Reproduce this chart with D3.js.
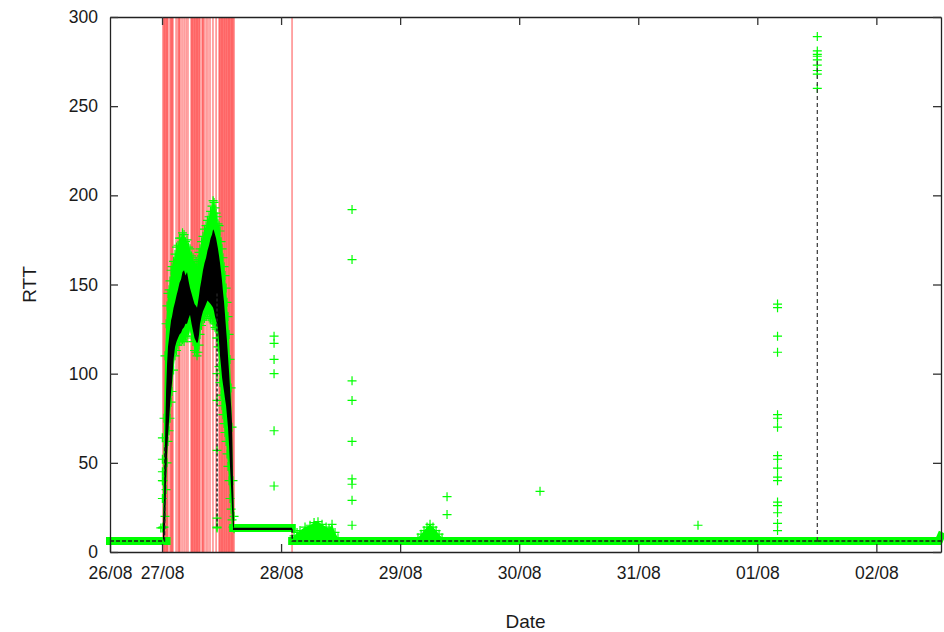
<!DOCTYPE html>
<html>
<head>
<meta charset="utf-8">
<script src="https://cdn.jsdelivr.net/npm/d3@7"></script>
<style>
  html, body { margin: 0; padding: 0; background: #fff; }
  svg { display: block; font-family: "Liberation Sans", Arial, Helvetica, sans-serif; }
</style>
</head>
<body>
<svg id="chart" width="944" height="632"></svg>
<script>
// Time is counted in days from 26/08 00:00.
const xDomain = [0.563, 7.543];
const yDomain = [0, 300];
const xTickValues = [0.563, 1, 2, 3, 4, 5, 6, 7];
const xTickLabels = ["26/08", "27/08", "28/08", "29/08", "30/08", "31/08", "01/08", "02/08"];
const yTickValues = [0, 50, 100, 150, 200, 250, 300];

// Link outages (red markers)
const outageDays = [
  1.008, 1.017, 1.025, 1.034, 1.042, 1.050, 1.067, 1.076, 1.084, 1.092,
  1.118, 1.134, 1.143, 1.151, 1.168, 1.185, 1.202, 1.218, 1.244, 1.252,
  1.260, 1.269, 1.277, 1.286, 1.294, 1.302, 1.311, 1.319, 1.336, 1.344,
  1.353, 1.370, 1.386, 1.403, 1.428, 1.454, 1.479, 1.487, 1.496, 1.504,
  1.512, 1.521, 1.529, 1.538, 1.546, 1.555, 1.563, 1.571, 1.580, 1.588,
  1.596, 1.605, 2.092
];

// Steady RTT samples (green band); NaN splits the segments
const bandDays = [0.563, 1.038, NaN, 1.598, 2.090, NaN, 2.093, 7.525, 7.543];
const bandRtt  = [6.2,   6.2,   NaN, 13.5,  13.5,  NaN, 6.2,   6.2,   9];

// Congestion episode on 27/08: spread of the RTT samples
const burstDays = [
  1.008, 1.017, 1.025, 1.034, 1.042, 1.050, 1.059, 1.067, 1.076, 1.084,
  1.097, 1.109, 1.122, 1.134, 1.147, 1.160, 1.172, 1.185, 1.197, 1.210,
  1.223, 1.235, 1.248, 1.260, 1.273, 1.286, 1.294, 1.302, 1.311, 1.319,
  1.332, 1.344, 1.357, 1.370, 1.382, 1.395, 1.408, 1.420, 1.429, 1.437,
  1.445, 1.454, 1.462, 1.470, 1.479, 1.487, 1.496, 1.504, 1.512, 1.521,
  1.529, 1.538, 1.546, 1.554, 1.563, 1.571, 1.580, 1.588, 1.596, 1.605
];
const burstHigh = [
  40, 75, 110, 128, 138, 145, 147, 152, 158, 160,
  163, 167, 171, 172, 176, 176, 179, 178, 174, 175,
  171, 170, 166, 165, 161, 163, 160, 164, 168, 170,
  174, 177, 181, 183, 186, 188, 191, 194, 197, 196,
  193, 190, 188, 184, 183, 180, 174, 170, 165, 160,
  155, 148, 140, 132, 122, 108, 92, 70, 40, 20
];
const burstLow = [
  14, 14, 20, 35, 50, 62, 68, 75, 84, 90,
  102, 110, 113, 116, 118, 118, 119, 118, 121, 120,
  124, 125, 121, 118, 113, 112, 110, 112, 116, 122,
  127, 130, 131, 132, 134, 132, 131, 130, 129, 128,
  126, 125, 120, 115, 104, 95, 88, 82, 77, 72,
  67, 62, 55, 48, 40, 30, 24, 18, 14, 13
];
// Smoothed RTT band during the episode (black)
const smoothHigh = [
  14, 30, 60, 90, 105, 115, 120, 125, 130, 132,
  137, 140, 144, 147, 151, 153, 157, 158, 155, 157,
  152, 148, 145, 142, 139, 138, 137, 140, 144, 148,
  153, 158, 162, 165, 169, 172, 176, 178, 181, 180,
  178, 176, 173, 170, 166, 162, 157, 152, 146, 140,
  133, 125, 118, 110, 101, 92, 82, 72, 40, 14
];
const smoothLow = [
  7, 7, 14, 40, 55, 65, 74, 82, 90, 95,
  108, 115, 118, 120, 122, 123, 125, 126, 128, 128,
  131, 133, 128, 124, 120, 118, 117, 118, 122, 128,
  132, 135, 137, 139, 141, 140, 139, 138, 137, 135,
  132, 130, 128, 125, 118, 110, 104, 98, 94, 90,
  86, 82, 76, 70, 60, 48, 36, 24, 14, 13
];

// Small RTT bumps after 28/08 (NaN separates them)
const bumpDays = [2.109, 2.134, 2.159, 2.201, 2.243, 2.277, 2.310, 2.344, 2.378, 2.403, 2.428, 2.453, 2.478, NaN,
                  3.150, 3.176, 3.201, 3.226, 3.251, 3.276, 3.302, 3.327, 3.352];
const bumpRtt  = [9, 11, 12, 14, 15, 16.5, 17, 15.5, 14, 13, 15.5, 11, 8, NaN,
                  8, 10, 12, 14, 15.5, 14, 12, 10, 8];

// Isolated RTT samples, grouped by time
const probeDays = [0.990, 1.003, 1.941, 2.596, 3.394, 4.175, 5.502, 6.170, 6.504, 1.462];
const probeRtt = [
  [13.5],
  [64, 52, 45, 40, 30, 13.5],
  [121, 117, 108, 100, 68, 37],
  [192, 164, 96, 85, 62, 41, 38, 29, 15],
  [31, 21],
  [34],
  [15],
  [139, 137, 121, 112, 77, 75, 70, 54, 52, 47, 42, 40, 28, 26, 22, 16, 12],
  [289, 281, 279, 278, 276, 273, 270, 268, 260],
  [136, 120, 100, 85, 57, 19, 14, 13.5]
];

// Smoothed RTT line (black, dashed)
const smoothDays = [0.563, 1.020, 1.025, NaN, 2.092, 2.094, 6.503, NaN, 6.505, 7.543];
const smoothRtt  = [6.2,   6.2,   60,    NaN, 13,    6.2,   6.2,   NaN, 6.2,   6.2];
// Plateau after the episode (black, solid)
const plateauDays = [1.596, 2.092];
const plateauRtt  = [13, 13];
// Vertical excursions of the smoothed line (drop on 27/08, spike on 01/08)
const dropDays = [1.462, 1.462];
const dropRtt  = [145, 14];
const spikeDays = [6.504, 6.504];
const spikeRtt  = [6.2, 277];

const GREEN = "#00ff00";
const svg = d3.select("#chart");
const x = d3.scaleLinear().domain(xDomain).range([110, 941]);
const y = d3.scaleLinear().domain(yDomain).range([552, 17]);

const pts = (xs, ys) => xs.map((d, i) => ({ t: d, v: ys[i] }));
const ok = d => !isNaN(d.t) && !isNaN(d.v);
const line = d3.line().defined(ok).x(d => x(d.t)).y(d => y(d.v));

// outage markers
svg.append("g").selectAll("line").data(outageDays).join("line")
  .attr("x1", d => x(d)).attr("x2", d => x(d))
  .attr("y1", y(300)).attr("y2", y(0))
  .attr("stroke", "#ff0000").attr("stroke-opacity", 0.7).attr("stroke-width", 1);

// steady green band
svg.append("path").datum(pts(bandDays, bandRtt))
  .attr("d", line).attr("fill", "none")
  .attr("stroke", GREEN).attr("stroke-width", 8).attr("stroke-linecap", "square");

// bumps
const bumpPts = pts(bumpDays, bumpRtt);
svg.append("path").datum(bumpPts)
  .attr("d", d3.area().defined(ok).x(d => x(d.t)).y0(y(6.2)).y1(d => y(d.v)))
  .attr("fill", GREEN);

// burst spread
const burstHi = pts(burstDays, burstHigh);
const burstLo = pts(burstDays, burstLow);
svg.append("path").datum(burstDays.map((t, i) => ({ t, lo: burstLow[i], hi: burstHigh[i] })))
  .attr("d", d3.area().x(d => x(d.t)).y0(d => y(d.lo)).y1(d => y(d.hi)))
  .attr("fill", GREEN);

// cross markers
const crossPath = "M-4.5,0H4.5M0,-4.5V4.5";
const crosses = [];
burstHi.forEach(d => crosses.push(d));
burstLo.forEach(d => crosses.push(d));
bumpPts.filter(ok).forEach(d => crosses.push(d));
probeDays.forEach((t, i) => probeRtt[i].forEach(v => crosses.push({ t, v })));
svg.append("g").selectAll("path").data(crosses).join("path")
  .attr("transform", d => `translate(${x(d.t)},${y(d.v)})`)
  .attr("d", crossPath)
  .attr("stroke", GREEN).attr("stroke-width", 1.2).attr("fill", "none");

// smoothed band during the episode
svg.append("path").datum(burstDays.map((t, i) => ({ t, lo: smoothLow[i], hi: smoothHigh[i] })))
  .attr("d", d3.area().x(d => x(d.t)).y0(d => y(d.lo)).y1(d => y(d.hi)))
  .attr("fill", "#000");

// smoothed line
svg.append("path").datum(pts(smoothDays, smoothRtt))
  .attr("d", line).attr("fill", "none")
  .attr("stroke", "#1a1a1a").attr("stroke-width", 1.6).attr("stroke-dasharray", "4,2");
svg.append("path").datum(pts(plateauDays, plateauRtt))
  .attr("d", line).attr("fill", "none")
  .attr("stroke", "#000").attr("stroke-width", 2.2);
svg.append("path").datum(pts(dropDays, dropRtt))
  .attr("d", line).attr("fill", "none")
  .attr("stroke", "#222").attr("stroke-width", 1.5).attr("stroke-dasharray", "3,2");
svg.append("path").datum(pts(spikeDays, spikeRtt))
  .attr("d", line).attr("fill", "none")
  .attr("stroke", "#333").attr("stroke-width", 1.2).attr("stroke-dasharray", "4,3");

// axes and frame
const FS = "17.5px";
function style(g) {
  g.attr("font-size", FS).attr("font-family", "'Liberation Sans', Arial, sans-serif");
  g.select(".domain").attr("stroke", "#222").attr("stroke-width", 1.3);
  g.selectAll(".tick line").attr("stroke", "#333").attr("stroke-width", 1.3);
  g.selectAll(".tick text").attr("fill", "#1a1a1a");
}
svg.append("g").attr("transform", "translate(0,552)")
  .call(d3.axisBottom(x).tickValues(xTickValues)
    .tickFormat(d => xTickLabels[xTickValues.indexOf(d)])
    .tickSizeInner(-8).tickSizeOuter(0).tickPadding(15))
  .call(style);
svg.append("g").attr("transform", "translate(0,17)")
  .call(d3.axisTop(x).tickValues(xTickValues.slice(1)).tickFormat("")
    .tickSizeInner(-8).tickSizeOuter(0))
  .call(style);
svg.append("g").attr("transform", "translate(110,0)")
  .call(d3.axisLeft(y).tickValues(yTickValues)
    .tickSizeInner(-8).tickSizeOuter(0).tickPadding(12))
  .call(style);
svg.append("g").attr("transform", "translate(941,0)")
  .call(d3.axisRight(y).tickValues(yTickValues).tickFormat("")
    .tickSizeInner(-8).tickSizeOuter(0))
  .call(style);

// titles
svg.append("text").attr("x", 525.5).attr("y", 628)
  .attr("text-anchor", "middle").attr("font-size", "19px").attr("fill", "#1a1a1a")
  .text("Date");
svg.append("text").attr("transform", "translate(36,284.5) rotate(-90)")
  .attr("text-anchor", "middle").attr("font-size", "19px").attr("fill", "#1a1a1a")
  .text("RTT");
</script>
</body>
</html>
